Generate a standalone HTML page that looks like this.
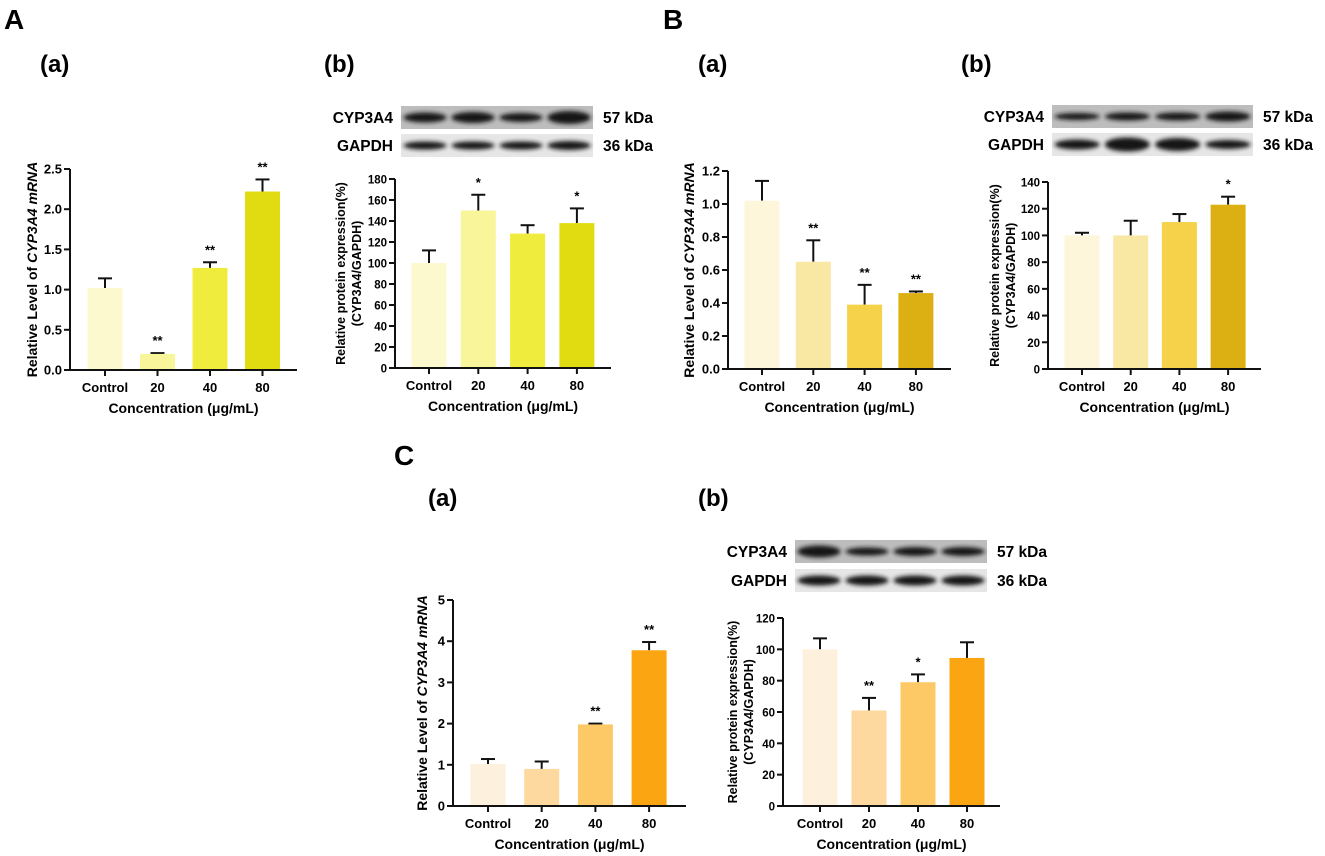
<!DOCTYPE html>
<html><head><meta charset="utf-8"><style>
body{margin:0;background:#fff}
svg{display:block;font-family:"Liberation Sans",Arial,sans-serif;font-weight:bold}
</style></head><body>
<svg id="fig" width="1325" height="856" viewBox="0 0 1325 856">
<defs><filter id="blur" x="-20%" y="-100%" width="140%" height="300%"><feGaussianBlur stdDeviation="2"/></filter></defs>
<text x="4" y="29" font-size="28">A</text>
<text x="663" y="29" font-size="28">B</text>
<text x="394" y="465" font-size="28">C</text>
</svg>
<script>
const categories = ["Control","20","40","80"];
const aMrna = [1.02,0.20,1.27,2.22];
const aMrnaErr = [0.12,0.01,0.07,0.15];
const aMrnaSig = ["","**","**","**"];
const aProt = [100,150,128,138];
const aProtErr = [12,15,8,14];
const aProtSig = ["","*","","*"];
const bMrna = [1.02,0.65,0.39,0.46];
const bMrnaErr = [0.12,0.13,0.12,0.01];
const bMrnaSig = ["","**","**","**"];
const bProt = [100,100,110,123];
const bProtErr = [2,11,6,6];
const bProtSig = ["","","","*"];
const cMrna = [1.02,0.90,1.98,3.78];
const cMrnaErr = [0.12,0.18,0.02,0.20];
const cMrnaSig = ["","","**","**"];
const cProt = [100,61,79,94.5];
const cProtErr = [7,8,5,10];
const cProtSig = ["","**","*",""];
const ticksA1 = ["0.0","0.5","1.0","1.5","2.0","2.5"];
const ticksA2 = ["0","20","40","60","80","100","120","140","160","180"];
const ticksB1 = ["0.0","0.2","0.4","0.6","0.8","1.0","1.2"];
const ticksB2 = ["0","20","40","60","80","100","120","140"];
const ticksC1 = ["0","1","2","3","4","5"];
const ticksC2 = ["0","20","40","60","80","100","120"];

const NS="http://www.w3.org/2000/svg";
const svg=document.getElementById('fig');
function mk(tag,attrs,parent,txt){const e=document.createElementNS(NS,tag);for(const k in attrs)e.setAttribute(k,attrs[k]);if(txt!==undefined)e.textContent=txt;(parent||svg).appendChild(e);return e;}

function chart(o){
  const g=mk('g',{});
  
  
  const ymax=parseFloat(o.ticks[o.ticks.length-1]);
  const y=v=>o.y0-(v/ymax)*(o.y0-o.y1);
  const x=i=>o.x0+o.c0+i*o.step;
  const sl=mk('text',{x:o.subX,y:o.subY,'font-size':24},g,o.sub);
  
  
  o.vals.forEach((v,i)=>{
    const top=y(v), e=y(v+o.err[i]);
    const bw=35;
    mk('line',{x1:x(i),x2:x(i),y1:top,y2:e,stroke:'#111','stroke-width':2},g);
    mk('line',{x1:x(i)-7,x2:x(i)+7,y1:e,y2:e,stroke:'#111','stroke-width':2},g);
    const r=mk('rect',{x:x(i)-bw/2,y:top,width:bw,height:o.y0-top,fill:o.colors[i]},g);
    
    
    if(o.sig[i]){const s=mk('text',{x:x(i),y:e-8,'font-size':13,'text-anchor':'middle'},g,o.sig[i]);
      
      }
    mk('line',{x1:x(i),x2:x(i),y1:o.y0,y2:o.y0+6,stroke:'#111','stroke-width':2},g);
    const t=mk('text',{x:x(i),y:o.y0+22,'font-size':13,'text-anchor':'middle'},g,categories[i]);
    
    
  });
  mk('line',{x1:o.x0,x2:o.x0,y1:o.y1,y2:o.y0+1,stroke:'#111','stroke-width':2},g);
  mk('line',{x1:o.x0-1,x2:o.xEnd,y1:o.y0,y2:o.y0,stroke:'#111','stroke-width':2},g);
  o.ticks.forEach(t=>{const v=parseFloat(t);
    mk('line',{x1:o.x0-6,x2:o.x0,y1:y(v),y2:y(v),stroke:'#111','stroke-width':2},g);
    const tl=mk('text',{x:o.x0-8,y:y(v)+4.5,'font-size':o.tfs||13,'text-anchor':'end'},g,t);
    
    
  });
  const xt=mk('text',{x:(o.x0+o.xEnd)/2,y:o.y0+43,'font-size':14,'text-anchor':'middle'},g,'Concentration (μg/mL)');
  
  
  const cy=(o.y0+o.y1)/2;
  if(o.mrna){
    const yt=mk('text',{x:0,y:0,'font-size':14,'text-anchor':'middle',transform:`translate(${o.ylx},${cy}) rotate(-90)`},g);
    
    
    mk('tspan',{},yt,'Relative Level of ');
    mk('tspan',{'font-style':'italic'},yt,'CYP3A4 mRNA');
  } else {
    const yt=mk('text',{x:0,y:0,'font-size':12.5,'text-anchor':'middle',transform:`translate(${o.ylx},${cy}) rotate(-90)`},g);
    
    
    mk('tspan',{x:0,dy:0},yt,'Relative protein expression(%)');
    mk('tspan',{x:0,dy:16},yt,'(CYP3A4/GAPDH)');
  }
  if(o.blot){
    const b=o.blot;
    const bg=mk('g',{},g);
    
    
    [[b.r1,'CYP3A4','57 kDa',b.w1],[b.r2,'GAPDH','36 kDa',b.w2]].forEach(([ry,lab,kda,ws],k)=>{
      mk('rect',{x:b.x,y:ry,width:b.w,height:23,fill:k?'#e6e6e6':'#bdbdbd'},bg);
      const lw=b.w/4;
      ws.forEach((th,i)=>mk('ellipse',{cx:b.x+lw*(i+0.5),cy:ry+11.5,rx:lw*0.45,ry:th,fill:'#151515',filter:'url(#blur)'},bg));
      const l=mk('text',{x:b.x-8,y:ry+17,'font-size':15.5,'text-anchor':'end'},bg,lab);
      
      
      const kd=mk('text',{x:b.x+b.w+10,y:ry+17,'font-size':15.5},bg,kda);
      
      
    });
  }
}
chart({name:'chart-a-mrna',sub:'(a)',subX:40,subY:72,x0:70,y0:370,y1:169,c0:35,step:52.5,xEnd:297,ticks:ticksA1,vals:aMrna,err:aMrnaErr,sig:aMrnaSig,colors:['#fdf9cf','#f9f59a','#f0ec3d','#e1dc12'],mrna:true,ylx:37});
chart({name:'chart-a-protein',sub:'(b)',subX:324,subY:72,x0:395,y0:368,y1:179,c0:34,step:49.3,xEnd:611,ticks:ticksA2,tfs:11.5,vals:aProt,err:aProtErr,sig:aProtSig,colors:['#fdf9cf','#f9f59a','#f0ec3d','#e1dc12'],ylx:345,
  blot:{x:401,w:192,r1:106,r2:134,w1:[5,5.5,4.5,6.5],w2:[4,4,4,4.5]}});
chart({name:'chart-b-mrna',sub:'(a)',subX:698,subY:72,x0:728,y0:369,y1:171,c0:34,step:51.3,xEnd:951,ticks:ticksB1,vals:bMrna,err:bMrnaErr,sig:bMrnaSig,colors:['#fdf6da','#f9e7a4','#f6d24a','#dcaf12'],mrna:true,ylx:694});
chart({name:'chart-b-protein',sub:'(b)',subX:961,subY:72,x0:1048,y0:369,y1:182,c0:34,step:48.7,xEnd:1261,ticks:ticksB2,tfs:11.5,vals:bProt,err:bProtErr,sig:bProtSig,colors:['#fdf6da','#f9e7a4','#f6d24a','#dcaf12'],ylx:999,
  blot:{x:1052,w:201,r1:105,r2:133,w1:[3.5,4,4,5],w2:[5,7,6.5,4.5]}});
chart({name:'chart-c-mrna',sub:'(a)',subX:428,subY:506,x0:453,y0:806,y1:600,c0:35,step:53.7,xEnd:686,ticks:ticksC1,vals:cMrna,err:cMrnaErr,sig:cMrnaSig,colors:['#fdf0dc','#fdd9a0','#fdc866','#fca512'],mrna:true,ylx:427});
chart({name:'chart-c-protein',sub:'(b)',subX:698,subY:506,x0:783,y0:806,y1:618,c0:37,step:49,xEnd:1000,ticks:ticksC2,tfs:11.5,vals:cProt,err:cProtErr,sig:cProtSig,colors:['#fdf0dc','#fdd9a0','#fdc866','#fca512'],ylx:737,
  blot:{x:795,w:192,r1:540,r2:569,w1:[6,4,4.5,4.5],w2:[5,5,5,5]}});
</script>
</body></html>
